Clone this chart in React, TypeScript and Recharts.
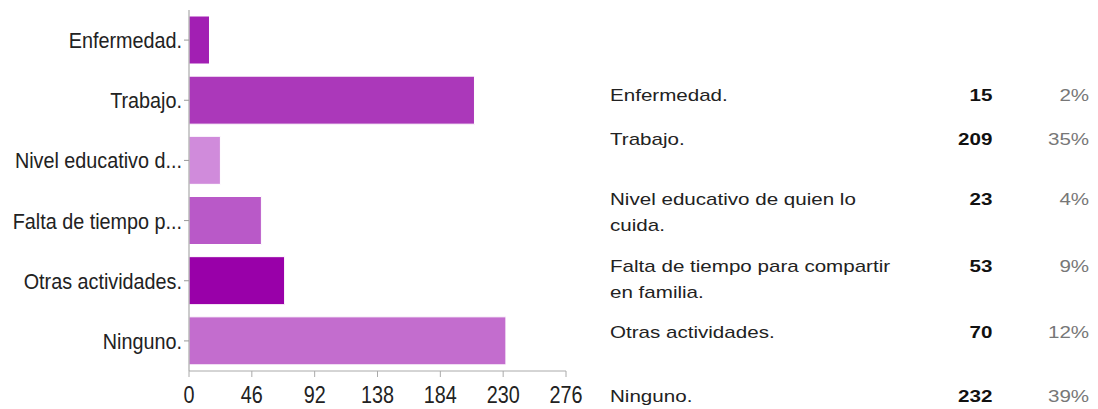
import React from "react";
import { Bar, BarChart, Cell, XAxis, YAxis } from "recharts";

// answers, in the order shown (top to bottom)
const categories = [
  "Enfermedad.",
  "Trabajo.",
  "Nivel educativo de quien lo cuida.",
  "Falta de tiempo para compartir en familia.",
  "Otras actividades.",
  "Ninguno.",
];
const shortLabels = [
  "Enfermedad.",
  "Trabajo.",
  "Nivel educativo d...",
  "Falta de tiempo p...",
  "Otras actividades.",
  "Ninguno.",
];
const counts = [15, 209, 23, 53, 70, 232];
const percents = ["2%", "35%", "4%", "9%", "12%", "39%"];
const xTicks = [0, 46, 92, 138, 184, 230, 276];

const barColors = ["#a21fb3", "#ab38ba", "#d08bdb", "#b959c8", "#9900a9", "#c36dce"];
// top of each table row on the right
const rowTops = [83, 127, 187, 254, 320, 384];

const chartData = categories.map((name, i) => ({
  name,
  short: shortLabels[i],
  value: counts[i],
}));

const FONT = '"Liberation Sans", Arial, sans-serif';

const YTick = (props: any) => {
  const { x, y, index } = props;
  return (
    <g transform={`translate(${x},${y})`}>
      <text
        x={0}
        y={0}
        dy="0.36em"
        textAnchor="end"
        fontSize={22}
        fill="#222"
        fontFamily={FONT}
        transform="scale(0.9,1)"
      >
        {shortLabels[index]}
      </text>
    </g>
  );
};

const XTick = (props: any) => {
  const { x, payload } = props;
  return (
    <g transform={`translate(${x},395)`}>
      <text
        x={0}
        y={0}
        dy="0.36em"
        textAnchor="middle"
        fontSize={23}
        fill="#222"
        fontFamily={FONT}
        transform="scale(0.86,1)"
      >
        {payload.value}
      </text>
    </g>
  );
};

export default function App() {
  return (
    <div
      style={{
        position: "absolute",
        left: 0,
        top: 0,
        width: 1098,
        height: 409,
        background: "#fff",
        fontFamily: FONT,
        overflow: "hidden",
      }}
    >
      <BarChart
        width={600}
        height={409}
        data={chartData}
        layout="vertical"
        margin={{ top: 10, right: 34, bottom: 0, left: 0 }}
      >
        <XAxis
          type="number"
          domain={[0, 276]}
          ticks={xTicks}
          height={38}
          stroke="#aaa"
          tickSize={6}
          tick={<XTick />}
          interval={0}
        />
        <YAxis
          type="category"
          dataKey="short"
          width={189}
          stroke="#999"
          tickSize={5}
          tick={<YTick />}
          interval={0}
        />
        <Bar dataKey="value" barSize={48} isAnimationActive={false}>
          {chartData.map((d, i) => (
            <Cell key={d.name} fill={barColors[i]} stroke="#fff" strokeWidth={1} />
          ))}
        </Bar>
      </BarChart>

      {/* summary table, drawn at natural width then widened */}
      <div
        style={{
          position: "absolute",
          left: 610,
          top: 0,
          width: 400,
          height: 409,
          transform: "scale(1.21,1)",
          transformOrigin: "0 0",
          fontSize: 17,
          lineHeight: "26px",
          color: "#222",
        }}
      >
        {categories.map((name, i) => (
          <div
            key={name}
            style={{ position: "absolute", top: rowTops[i], left: 0, width: 400 }}
          >
            <div style={{ width: 245 }}>{name}</div>
            <div
              style={{
                position: "absolute",
                top: 0,
                right: 84,
                fontWeight: "bold",
                color: "#111",
              }}
            >
              {counts[i]}
            </div>
            <div style={{ position: "absolute", top: 0, right: 4, color: "#777" }}>
              {percents[i]}
            </div>
          </div>
        ))}
      </div>
    </div>
  );
}
